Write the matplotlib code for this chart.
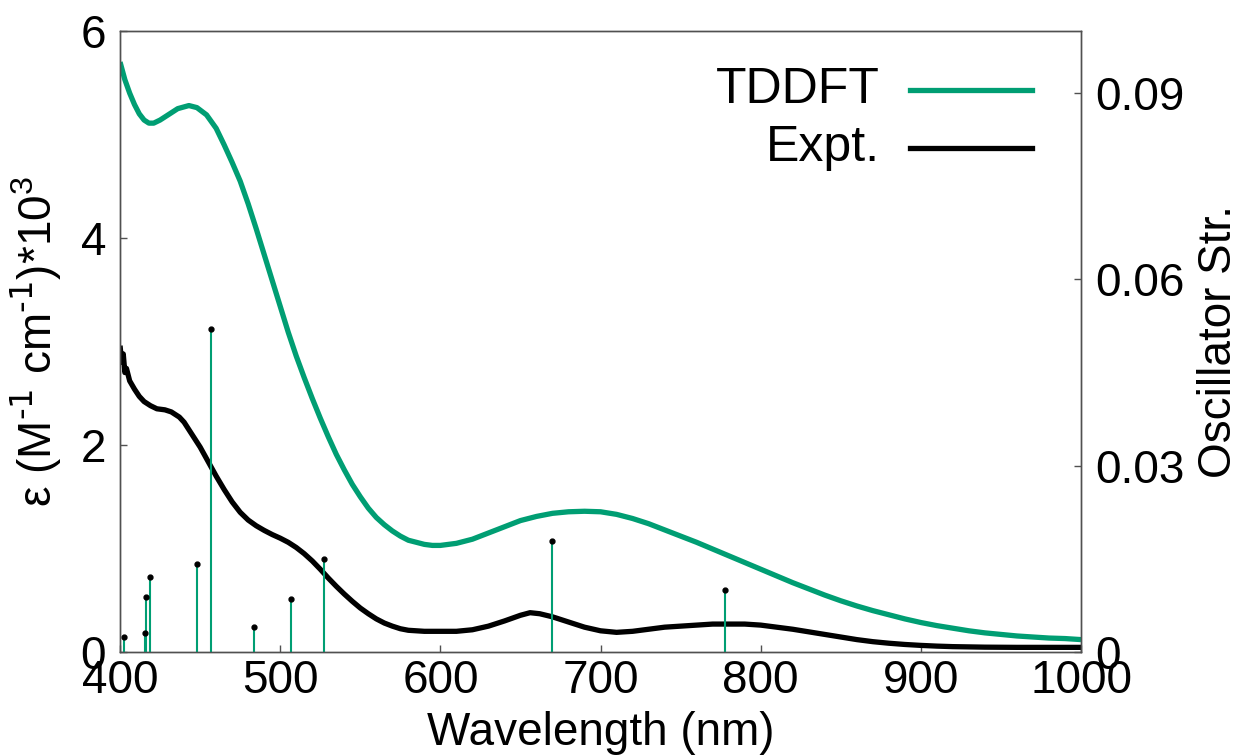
import numpy as np
import matplotlib
matplotlib.use("Agg")
from matplotlib import pyplot as plt
from matplotlib.lines import Line2D

plt.rcParams['font.family'] = ['Liberation Sans', 'DejaVu Sans']
plt.rcParams['mathtext.default'] = 'regular'

# TDDFT broadened spectrum (eps * 1e-3)
tddft_wl = [400, 403, 406, 409, 412, 415, 418, 421, 425, 430, 436, 443, 448, 454,
            460, 465, 470, 475, 480, 485, 490, 495, 500, 505, 510, 515, 520, 525,
            530, 535, 540, 545, 550, 555, 560, 565, 570, 575, 580, 585, 590, 595,
            600, 610, 620, 630, 640, 650, 660, 670, 680, 690, 700, 710, 720, 730,
            740, 750, 760, 770, 780, 790, 800, 810, 820, 830, 840, 850, 860, 870,
            880, 890, 900, 910, 920, 930, 940, 950, 960, 970, 980, 990, 1000]
tddft_eps = [5.70, 5.53, 5.40, 5.29, 5.20, 5.14, 5.11, 5.11, 5.14, 5.19, 5.25, 5.28,
             5.26, 5.19, 5.06, 4.90, 4.73, 4.55, 4.33, 4.09, 3.84, 3.59, 3.34, 3.09,
             2.86, 2.65, 2.45, 2.26, 2.08, 1.91, 1.76, 1.62, 1.50, 1.39, 1.30, 1.23,
             1.17, 1.12, 1.08, 1.06, 1.04, 1.03, 1.03, 1.05, 1.09, 1.15, 1.21, 1.27,
             1.31, 1.34, 1.355, 1.36, 1.355, 1.33, 1.29, 1.24, 1.18, 1.12, 1.06, 0.995,
             0.93, 0.865, 0.80, 0.735, 0.67, 0.61, 0.55, 0.495, 0.445, 0.40, 0.36,
             0.32, 0.285, 0.255, 0.23, 0.205, 0.185, 0.17, 0.155, 0.145, 0.135, 0.13,
             0.12]

# measured spectrum
expt_wl = [400, 401, 402, 403, 404, 406, 409, 412, 415, 419, 423, 428, 432, 437,
           440, 445, 450, 455, 460, 465, 470, 475, 480, 485, 490, 495, 500, 505,
           510, 515, 520, 525, 530, 535, 540, 545, 550, 555, 560, 565, 570, 575,
           580, 590, 600, 610, 620, 630, 640, 650, 656, 662, 670, 680, 690, 700,
           710, 720, 730, 740, 750, 760, 770, 780, 790, 800, 810, 820, 830, 840,
           850, 860, 870, 880, 890, 900, 910, 920, 940, 960, 1000]
expt_eps = [2.96, 2.80, 2.88, 2.70, 2.74, 2.62, 2.54, 2.47, 2.42, 2.38, 2.35, 2.34,
            2.32, 2.27, 2.22, 2.10, 1.98, 1.84, 1.70, 1.57, 1.45, 1.35, 1.275, 1.22,
            1.175, 1.135, 1.10, 1.06, 1.01, 0.95, 0.88, 0.80, 0.715, 0.635, 0.56,
            0.49, 0.425, 0.37, 0.32, 0.28, 0.25, 0.225, 0.21, 0.20, 0.20, 0.20,
            0.215, 0.25, 0.30, 0.355, 0.38, 0.37, 0.34, 0.29, 0.24, 0.205, 0.19,
            0.20, 0.22, 0.24, 0.25, 0.26, 0.27, 0.27, 0.27, 0.26, 0.24, 0.22, 0.195,
            0.17, 0.145, 0.12, 0.10, 0.085, 0.073, 0.064, 0.057, 0.052, 0.047, 0.045,
            0.045]

# excitations
stick_wl = [402.7, 415.8, 416.1, 418.8, 447.8, 457.0, 483.9, 506.7, 527.6, 669.5, 777.9]
stick_f = [0.0024, 0.0031, 0.0088, 0.0120, 0.0142, 0.0520, 0.0041, 0.0085, 0.0149,
           0.0178, 0.0100]

green = '#009e73'
fs = 33

fig = plt.figure(figsize=(12.39, 7.55), dpi=100)
ax = fig.add_axes([0.0969, 0.1364, 0.7756, 0.8225])
ax2 = ax.twinx()

ax.plot(tddft_wl, tddft_eps, color=green, lw=3.8, solid_capstyle='butt')
ax.plot(expt_wl, expt_eps, color='black', lw=3.8, solid_capstyle='butt')

ax2.vlines(stick_wl, 0, stick_f, color=green, lw=1.5)
ax2.plot(stick_wl, stick_f, 'o', color='black', ms=3.5)

ax.set_xlim(400, 1000)
ax.set_ylim(0, 6)
ax2.set_ylim(0, 0.1)
ax.set_xticks(np.arange(400, 1001, 100))
ax.set_yticks([0, 2, 4, 6])
ax2.set_yticks([0, 0.03, 0.06, 0.09])
ax2.set_yticklabels(['0', '0.03', '0.06', '0.09'])

for a in (ax, ax2):
    for s in a.spines.values():
        s.set_color('#505050')
        s.set_linewidth(1.0)
ax.tick_params(axis='x', direction='in', length=5, width=1, color='#505050',
               labelsize=fs, pad=5, top=False)
ax.tick_params(axis='y', direction='in', length=5, width=1, color='#505050',
               labelsize=fs, pad=10, right=False)
ax2.tick_params(axis='y', direction='in', length=5, width=1, color='#505050',
                labelsize=fs, pad=10)

ax.set_xlabel('Wavelength (nm)', fontsize=fs, labelpad=6)
ax.set_ylabel('ε (M$^{\\text{-1}}$ cm$^{\\text{-1}}$)*10$^{3}$', fontsize=fs,
              labelpad=12)
ax2.set_ylabel('Oscillator Str.', fontsize=fs, labelpad=9)

# key drawn gnuplot-style: right-justified text, sample line to the right
for lab, col, yy in [('TDDFT', green, 0.905), ('Expt.', 'black', 0.812)]:
    ax.text(0.791, yy, lab, transform=ax.transAxes, ha='right', va='center',
            fontsize=36)
    ax.add_line(Line2D([0.822, 0.949], [yy, yy], transform=ax.transAxes,
                       color=col, lw=3.8))

fig.savefig('out.png', dpi=100)
